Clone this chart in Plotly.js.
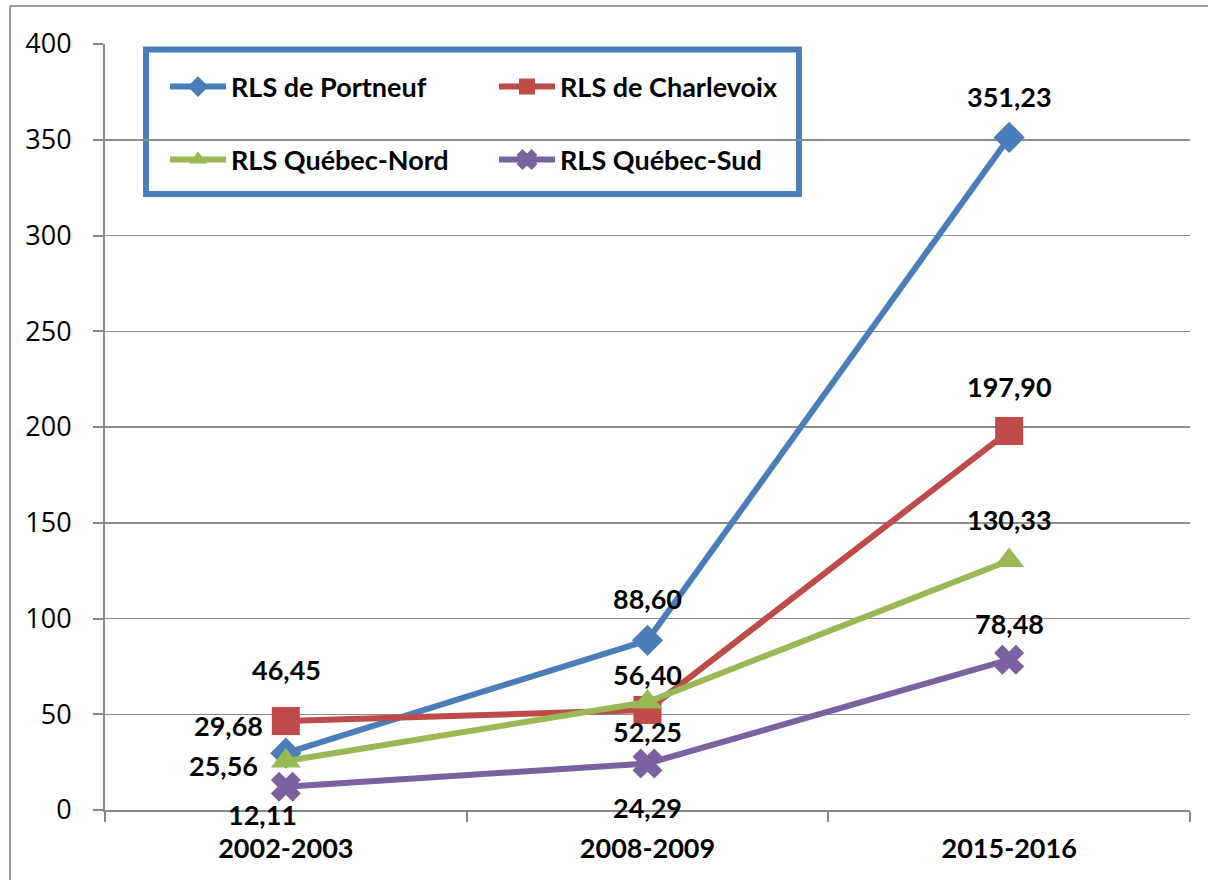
<!DOCTYPE html>
<html>
<head>
<meta charset="utf-8">
<script src="https://cdn.plot.ly/plotly-3.0.1.min.js"></script>
<style>
html,body{margin:0;padding:0;background:#fff;}
#chart{width:1208px;height:880px;}
</style>
</head>
<body>
<div id="chart"></div>
<script>
// ---- data ----
const categories = ["2002-2003", "2008-2009", "2015-2016"];
const seriesNames = ["RLS de Portneuf", "RLS de Charlevoix", "RLS Québec-Nord", "RLS Québec-Sud"];
const portneuf   = [29.68, 88.60, 351.23];
const charlevoix = [46.45, 52.25, 197.90];
const quebecNord = [25.56, 56.40, 130.33];
const quebecSud  = [12.11, 24.29, 78.48];
const yTicks = [0, 50, 100, 150, 200, 250, 300, 350, 400];

// ---- styles ----
const seriesValues = [portneuf, charlevoix, quebecNord, quebecSud];
const colors = ["#4A7EBB", "#BE4B48", "#98B954", "#7D60A0"];
const symbols = ["diamond", "square", "triangle-up", "x"];
const sizes = [24, 28, 26, 24];
// label offsets in px (dx, dy) relative to each point
const labelOffsets = [
  [[-57, -28], [0, -42], [0, -41]],
  [[1, -52], [0, 22], [0, -45]],
  [[-62, 4], [0, -27], [0, -41]],
  [[-23, 28], [0, 44], [0, -36]]
];

const fmt = v => v.toFixed(2).replace(".", ",");

const W = 1208, H = 880;
const M = {l: 105, r: 18, t: 44, b: 70};
const PW = W - M.l - M.r, PH = H - M.t - M.b;
const px2x = px => (px - M.l) / PW;
const py2y = py => (H - M.b - py) / PH;

const traces = seriesValues.map((vals, i) => ({
  type: "scatter",
  mode: "lines+markers",
  x: categories,
  y: vals,
  name: seriesNames[i],
  legend: i < 2 ? "legend" : "legend2",
  line: {color: colors[i], width: 6},
  marker: {symbol: symbols[i], size: sizes[i], color: colors[i],
           line: {color: colors[i], width: i === 3 ? 2 : 0}},
  cliponaxis: false,
  hoverinfo: "x+y+name"
}));

const annotations = [];
seriesValues.forEach((vals, i) => {
  vals.forEach((v, j) => {
    annotations.push({
      x: categories[j], y: v, xref: "x", yref: "y",
      text: "<b>" + fmt(v) + "</b>",
      showarrow: false,
      xanchor: "center", yanchor: "middle",
      xshift: labelOffsets[i][j][0], yshift: -labelOffsets[i][j][1],
      font: {family: "Lato, sans-serif", size: 27, color: "#000"}
    });
  });
});

const legendCommon = {
  orientation: "h",
  xanchor: "left", yanchor: "middle",
  entrywidth: 258, itemwidth: 56, itemsizing: "trace",
  bgcolor: "rgba(0,0,0,0)",
  font: {family: "Lato, sans-serif", size: 27, color: "#000", weight: "bold"}
};

const layout = {
  width: W, height: H,
  margin: M,
  paper_bgcolor: "#fff", plot_bgcolor: "#fff",
  showlegend: true,
  xaxis: {
    type: "category",
    range: [-0.5, 2.5],
    tickson: "boundaries",
    ticks: "outside", ticklen: 10, tickwidth: 2, tickcolor: "#888",
    showline: true, linecolor: "#888", linewidth: 2,
    showgrid: false, zeroline: false,
    ticklabelstandoff: 14,
    tickfont: {family: "Lato, sans-serif", size: 27, color: "#000", weight: "bold"}
  },
  yaxis: {
    range: [0, 400],
    tickvals: yTicks,
    ticks: "outside", ticklen: 10, tickwidth: 2, tickcolor: "#888",
    showline: true, linecolor: "#888", linewidth: 2,
    showgrid: true, gridcolor: "#8c8c8c", gridwidth: 1.5,
    zeroline: false,
    ticklabelstandoff: 16,
    tickfont: {family: "Open Sans, sans-serif", size: 27, color: "#000"}
  },
  legend: Object.assign({x: px2x(165), y: py2y(87)}, legendCommon),
  legend2: Object.assign({x: px2x(165), y: py2y(160)}, legendCommon),
  annotations: annotations,
  shapes: [
    {type: "rect", xref: "paper", yref: "paper",
     x0: px2x(146), x1: px2x(799), y0: py2y(49.5), y1: py2y(194),
     line: {color: "#4A7EBB", width: 6}, fillcolor: "rgba(255,255,255,1)", layer: "below"},
    {type: "line", xref: "paper", yref: "paper",
     x0: px2x(10), x1: px2x(10), y0: py2y(6), y1: py2y(880),
     line: {color: "#999", width: 2}},
    {type: "line", xref: "paper", yref: "paper",
     x0: px2x(10), x1: px2x(1208), y0: py2y(6), y1: py2y(6),
     line: {color: "#999", width: 2}}
  ]
};

Plotly.newPlot("chart", traces, layout, {displayModeBar: false, staticPlot: true});
</script>
</body>
</html>
